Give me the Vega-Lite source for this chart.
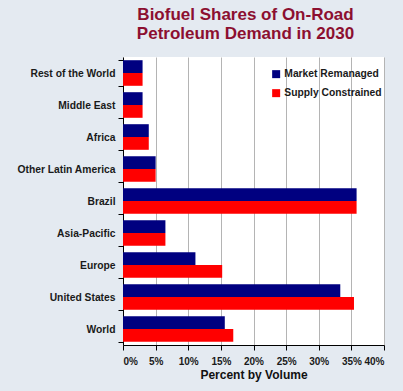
{
  "$schema": "https://vega.github.io/schema/vega-lite/v6.json",
  "autosize": {"type": "none"},
  "width": 261,
  "height": 288,
  "padding": {"left": 123, "top": 57, "right": 19, "bottom": 46},
  "background": "#e4eaf1",
  "title": {
    "text": ["Biofuel Shares of On-Road", "Petroleum Demand in 2030"],
    "font": "Liberation Sans",
    "fontSize": 17,
    "fontWeight": "bold",
    "color": "#8c0f30",
    "anchor": "middle",
    "dx": -8,
    "offset": 9,
    "lineHeight": 19
  },
  "data": {
    "values": [
      {"region": "Rest of the World", "scenario": "Market Remanaged", "value": 3.0},
      {"region": "Rest of the World", "scenario": "Supply Constrained", "value": 3.0},
      {"region": "Middle East", "scenario": "Market Remanaged", "value": 3.0},
      {"region": "Middle East", "scenario": "Supply Constrained", "value": 3.0},
      {"region": "Africa", "scenario": "Market Remanaged", "value": 3.95},
      {"region": "Africa", "scenario": "Supply Constrained", "value": 3.95},
      {"region": "Other Latin America", "scenario": "Market Remanaged", "value": 5.0},
      {"region": "Other Latin America", "scenario": "Supply Constrained", "value": 5.0},
      {"region": "Brazil", "scenario": "Market Remanaged", "value": 35.8},
      {"region": "Brazil", "scenario": "Supply Constrained", "value": 35.8},
      {"region": "Asia-Pacific", "scenario": "Market Remanaged", "value": 6.5},
      {"region": "Asia-Pacific", "scenario": "Supply Constrained", "value": 6.5},
      {"region": "Europe", "scenario": "Market Remanaged", "value": 11.1},
      {"region": "Europe", "scenario": "Supply Constrained", "value": 15.2},
      {"region": "United States", "scenario": "Market Remanaged", "value": 33.3},
      {"region": "United States", "scenario": "Supply Constrained", "value": 35.4},
      {"region": "World", "scenario": "Market Remanaged", "value": 15.6},
      {"region": "World", "scenario": "Supply Constrained", "value": 16.9}
    ]
  },
  "mark": {"type": "bar"},
  "encoding": {
    "y": {
      "field": "region",
      "type": "nominal",
      "sort": ["Rest of the World", "Middle East", "Africa", "Other Latin America", "Brazil", "Asia-Pacific", "Europe", "United States", "World"],
      "scale": {"paddingInner": 0.2, "paddingOuter": 0.1},
      "axis": {
        "title": null,
        "domainColor": "#000000",
        "tickColor": "#000000",
        "tickBand": "extent",
        "tickSize": 5,
        "labelFont": "Liberation Sans",
        "labelFontSize": 10.3,
        "labelFontWeight": "bold",
        "labelColor": "#1a1a1a",
        "labelPadding": 3
      }
    },
    "yOffset": {
      "field": "scenario",
      "type": "nominal",
      "sort": ["Market Remanaged", "Supply Constrained"]
    },
    "x": {
      "field": "value",
      "type": "quantitative",
      "scale": {"domain": [0, 40], "nice": false},
      "axis": {
        "title": "Percent by Volume",
        "titleFont": "Liberation Sans",
        "titleFontSize": 12,
        "titleFontWeight": "bold",
        "titleColor": "#111111",
        "titlePadding": 3,
        "values": [0, 5, 10, 15, 20, 25, 30, 35, 40],
        "labelExpr": "datum.value + '%'",
        "labelFont": "Liberation Sans",
        "labelFontSize": 10,
        "labelFontWeight": "bold",
        "labelColor": "#1a1a1a",
        "labelPadding": 6,
        "domainColor": "#000000",
        "tickColor": "#000000",
        "tickSize": 5,
        "grid": true,
        "gridColor": "#b4b4b4",
        "gridWidth": 1
      }
    },
    "color": {
      "field": "scenario",
      "type": "nominal",
      "sort": ["Market Remanaged", "Supply Constrained"],
      "scale": {"domain": ["Market Remanaged", "Supply Constrained"], "range": ["#000080", "#ff0000"]},
      "legend": {
        "title": null,
        "orient": "none",
        "legendX": 148,
        "legendY": 12,
        "symbolType": "square",
        "symbolSize": 64,
        "symbolStrokeWidth": 0,
        "rowPadding": 8,
        "labelFont": "Liberation Sans",
        "labelFontSize": 10.3,
        "labelFontWeight": "bold",
        "labelColor": "#1a1a1a",
        "labelOffset": 3
      }
    }
  },
  "config": {
    "view": {"fill": "#ffffff", "stroke": null}
  }
}
